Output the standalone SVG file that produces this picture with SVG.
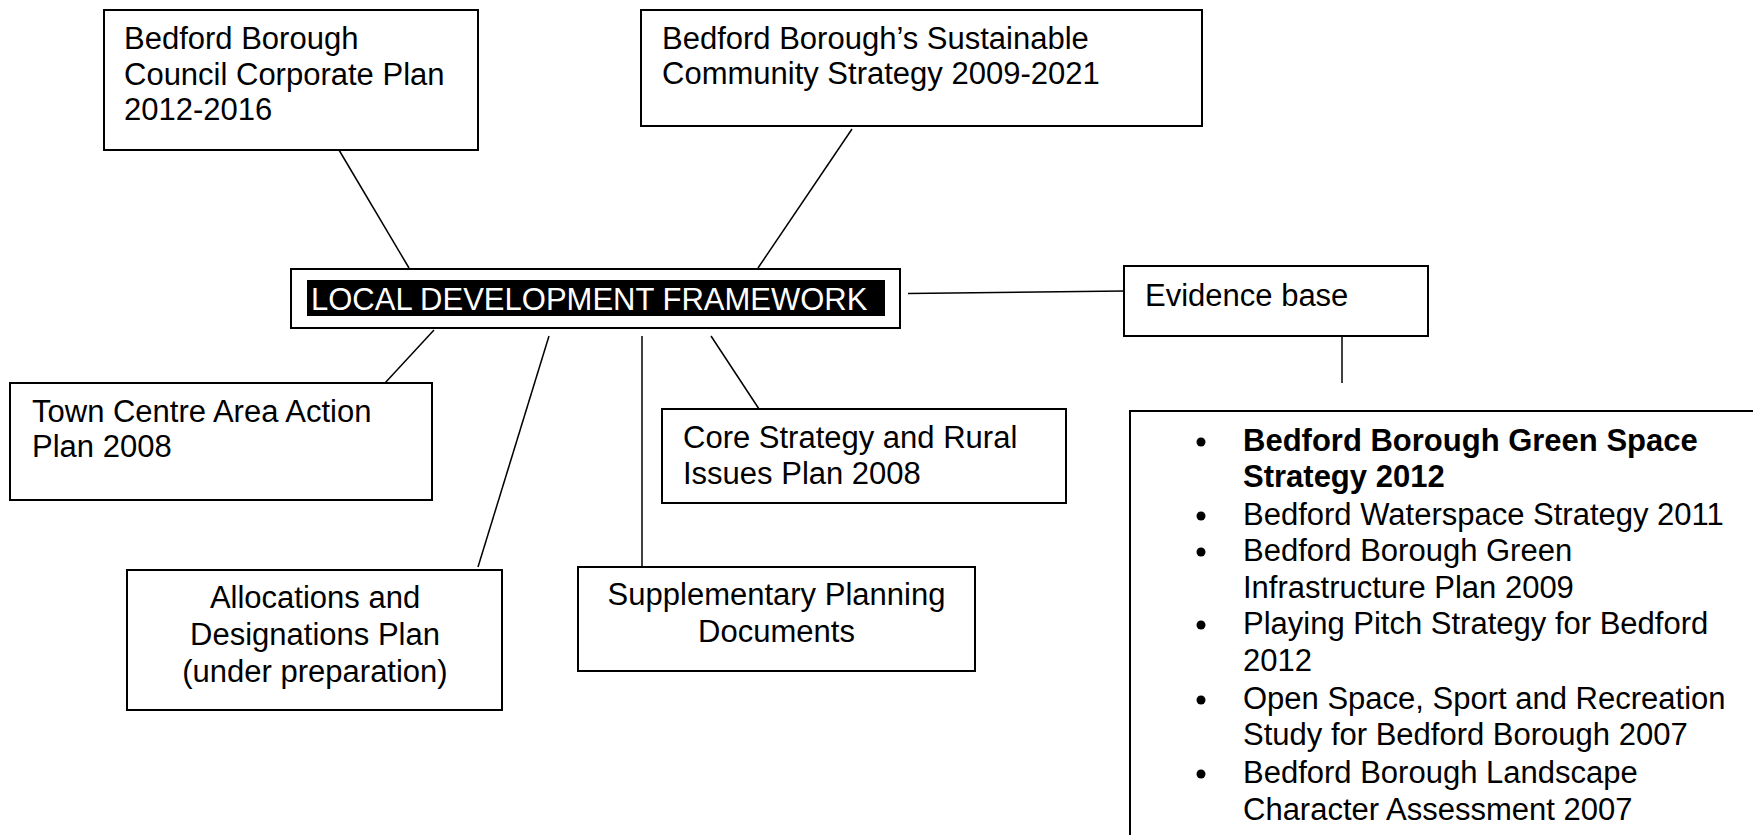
<svg xmlns="http://www.w3.org/2000/svg" width="1753" height="835" viewBox="0 0 1753 835">
  <style>
    .box { fill: #ffffff; stroke: #000000; stroke-width: 2; }
    .link { fill: none; stroke: #000000; stroke-width: 1.5; }
    .t { font-family: "Liberation Sans", Arial, sans-serif; font-size: 31px; fill: #000000; }
    .c { text-anchor: middle; }
    .b { font-weight: bold; }
    .inv { fill: #ffffff; }
  </style>
  <rect width="1753" height="835" fill="#ffffff"/>

  <!-- connectors -->
  <g id="connectors">
    <line class="link" x1="339" y1="150" x2="409" y2="268"/>
    <line class="link" x1="852" y1="129" x2="758" y2="268"/>
    <line class="link" x1="908" y1="293.5" x2="1124" y2="291"/>
    <line class="link" x1="1342" y1="337" x2="1342" y2="383"/>
    <line class="link" x1="434" y1="330" x2="385" y2="383"/>
    <line class="link" x1="549" y1="336" x2="478" y2="567"/>
    <line class="link" x1="642" y1="336" x2="642" y2="567"/>
    <line class="link" x1="711" y1="336" x2="759" y2="409"/>
  </g>

  <g id="corporate-plan">
    <rect class="box" x="104" y="10" width="374" height="140"/>
    <text class="t" x="124" y="49">Bedford Borough</text>
    <text class="t" x="124" y="85">Council Corporate Plan</text>
    <text class="t" x="124" y="120">2012-2016</text>
  </g>

  <g id="community-strategy">
    <rect class="box" x="641" y="10" width="561" height="116"/>
    <text class="t" x="662" y="49">Bedford Borough’s Sustainable</text>
    <text class="t" x="662" y="84">Community Strategy 2009-2021</text>
  </g>

  <g id="ldf">
    <rect class="box" x="291" y="269" width="609" height="59"/>
    <rect x="307" y="280" width="578" height="36" fill="#000000"/>
    <text class="t inv" x="311" y="310">LOCAL DEVELOPMENT FRAMEWORK</text>
  </g>

  <g id="evidence-base">
    <rect class="box" x="1124" y="266" width="304" height="70"/>
    <text class="t" x="1145" y="306">Evidence base</text>
  </g>

  <g id="town-centre">
    <rect class="box" x="10" y="383" width="422" height="117"/>
    <text class="t" x="32" y="422">Town Centre Area Action</text>
    <text class="t" x="32" y="457">Plan 2008</text>
  </g>

  <g id="core-strategy">
    <rect class="box" x="662" y="409" width="404" height="94"/>
    <text class="t" x="683" y="448">Core Strategy and Rural</text>
    <text class="t" x="683" y="484">Issues Plan 2008</text>
  </g>

  <g id="allocations">
    <rect class="box" x="127" y="570" width="375" height="140"/>
    <text class="t c" x="315" y="608">Allocations and</text>
    <text class="t c" x="315" y="645">Designations Plan</text>
    <text class="t c" x="315" y="682">(under preparation)</text>
  </g>

  <g id="supplementary">
    <rect class="box" x="578" y="567" width="397" height="104"/>
    <text class="t c" x="776.5" y="605">Supplementary Planning</text>
    <text class="t c" x="776.5" y="642">Documents</text>
  </g>

  <g id="evidence-list">
    <rect class="box" x="1130" y="411" width="700" height="500"/>
    <g fill="#000000">
      <circle cx="1201" cy="442" r="4.5"/>
      <circle cx="1201" cy="516" r="4.5"/>
      <circle cx="1201" cy="552" r="4.5"/>
      <circle cx="1201" cy="625" r="4.5"/>
      <circle cx="1201" cy="700" r="4.5"/>
      <circle cx="1201" cy="774" r="4.5"/>
    </g>
    <text class="t b" x="1243" y="451">Bedford Borough Green Space</text>
    <text class="t b" x="1243" y="487">Strategy 2012</text>
    <text class="t" x="1243" y="525">Bedford Waterspace Strategy 2011</text>
    <text class="t" x="1243" y="561">Bedford Borough Green</text>
    <text class="t" x="1243" y="598">Infrastructure Plan 2009</text>
    <text class="t" x="1243" y="634">Playing Pitch Strategy for Bedford</text>
    <text class="t" x="1243" y="671">2012</text>
    <text class="t" x="1243" y="709">Open Space, Sport and Recreation</text>
    <text class="t" x="1243" y="745">Study for Bedford Borough 2007</text>
    <text class="t" x="1243" y="783">Bedford Borough Landscape</text>
    <text class="t" x="1243" y="820">Character Assessment 2007</text>
  </g>
</svg>
